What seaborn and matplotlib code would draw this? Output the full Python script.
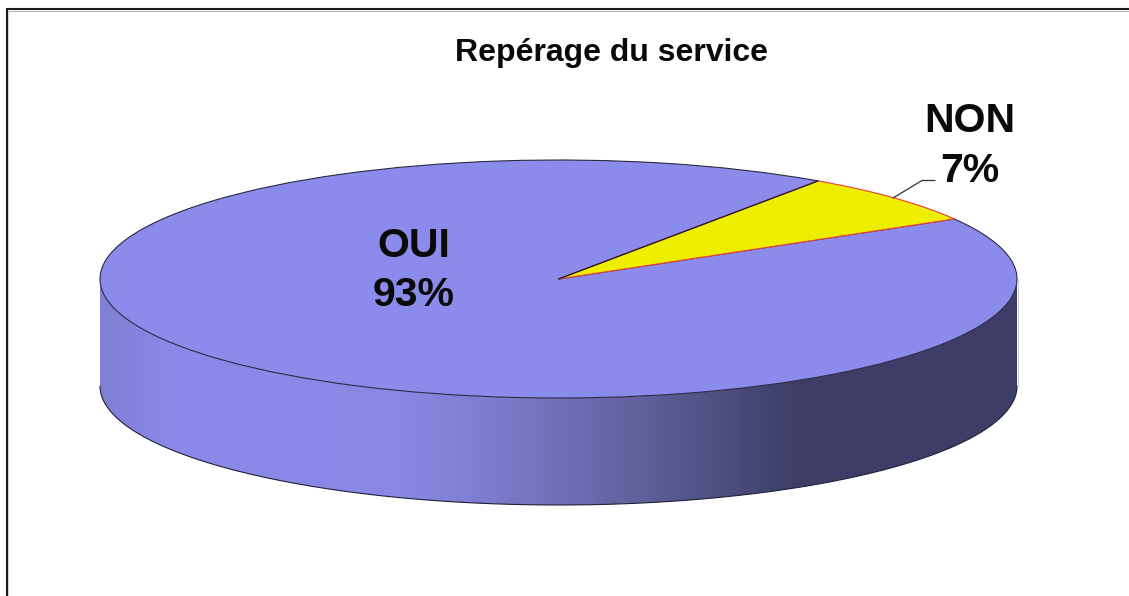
import matplotlib.pyplot as plt
import matplotlib.path as mpath
from matplotlib.colors import LinearSegmentedColormap
import numpy as np
import seaborn as sns

title = 'Repérage du service'
labels = ['NON', 'OUI']
values = [7, 93]

W, H = 1129, 596
cx, cy, rx, ry, depth = 558.5, 279, 458.5, 119, 107
top_color = '#8b8bec'
non_color = '#eeee00'

sns.set_theme(style='white')
plt.rcParams['font.family'] = ['Liberation Sans', 'DejaVu Sans']

fig = plt.figure(figsize=(W / 100, H / 100), dpi=100, facecolor='white')

# pixel axes for frame, wall of the cylinder and texts
ax = fig.add_axes([0, 0, 1, 1])
ax.set_xlim(0, W)
ax.set_ylim(H, 0)
ax.axis('off')

ax.plot([6.5, 6.5, W], [H, 9, 9], color='k', lw=1.5, solid_joinstyle='miter')
ax.plot([8, W], [10.6, 10.6], color='#b0b0b0', lw=0.7)
ax.plot([8.1, 8.1], [10.6, H], color='#c8c8c8', lw=0.6)

# wall of the cylinder with a horizontal gradient
t = np.linspace(np.pi, 0, 300)
ex = cx + rx * np.cos(t)
ey_front = cy + ry * np.sin(t)
wall_x = np.r_[ex, ex[::-1]]
wall_y = np.r_[ey_front + depth, ey_front[::-1]]
wall_path = mpath.Path(np.c_[wall_x, wall_y])

shade = LinearSegmentedColormap.from_list('wall', [
    (0.0, '#7f7fd4'), (0.08, '#8a8aea'), (0.33, '#8888e4'), (0.42, '#7d7dcf'),
    (0.58, '#62629f'), (0.76, '#3e3e68'), (1.0, '#3d3d67')])
grad = ax.imshow(np.linspace(0, 1, 512)[None, :], cmap=shade, aspect='auto',
                 extent=(cx - rx, cx + rx, cy + ry + depth, cy), zorder=2)
grad.set_clip_path(mpath.Path(wall_path.vertices), transform=ax.transData)
ax.set_xlim(0, W)
ax.set_ylim(H, 0)

ax.plot(ex, ey_front + depth, color='#20203a', lw=0.8, zorder=3)
ax.plot([cx - rx, cx - rx], [cy, cy + depth], color='#d0d0d8', lw=0.6, zorder=1)
ax.plot([cx + rx + 0.5, cx + rx + 0.5], [cy, cy + depth], color='#c8c8d4', lw=0.6, zorder=1)

# top face: a real pie squeezed into an elliptical axes
ax_pie = fig.add_axes([(cx - rx) / W, 1 - (cy + ry) / H, 2 * rx / W, 2 * ry / H])
wedges, _ = ax_pie.pie(values, colors=[non_color, top_color], startangle=30.3, radius=1,
                       wedgeprops=dict(linewidth=0.8))
ax_pie.set_aspect('auto')
ax_pie.set_xlim(-1, 1)
ax_pie.set_ylim(-1, 1)
ax_pie.patch.set_alpha(0)
wedges[1].set_edgecolor('#2a2a40')
wedges[1].set_clip_on(False)
wedges[0].set_edgecolor('#f03c3c')
wedges[0].set_clip_on(False)
wedges[0].set_zorder(wedges[1].get_zorder() + 1)

# upper radius of the NON slice is dark, not red
upper = np.deg2rad(wedges[0].theta2)
ax_pie.plot([0, np.cos(upper)], [0, np.sin(upper)], color='#1e1e30', lw=0.9, zorder=5,
            clip_on=False)

# leader line and labels
ax_top = fig.add_axes([0, 0, 1, 1])
ax_top.set_xlim(0, W)
ax_top.set_ylim(H, 0)
ax_top.axis('off')
ax_top.plot([893, 922, 935], [198, 180.5, 180.5], color='#333333', lw=0.9)

ax_top.text(611.5, 53, title, ha='center', va='center', fontsize=23, fontweight='bold', color='#0a0a0a')
ax_top.text(970, 181.5, labels[0] + '\n' + f'{values[0]}%', ha='center', va='baseline', fontsize=29.5,
            fontweight='bold', color='#0a0a0a', linespacing=1.37)
ax_top.text(414, 306, labels[1] + '\n' + f'{values[1]}%', ha='center', va='baseline', fontsize=29.5,
            fontweight='bold', color='#0a0a0a', linespacing=1.37)

fig.savefig('out.png', dpi=100)
